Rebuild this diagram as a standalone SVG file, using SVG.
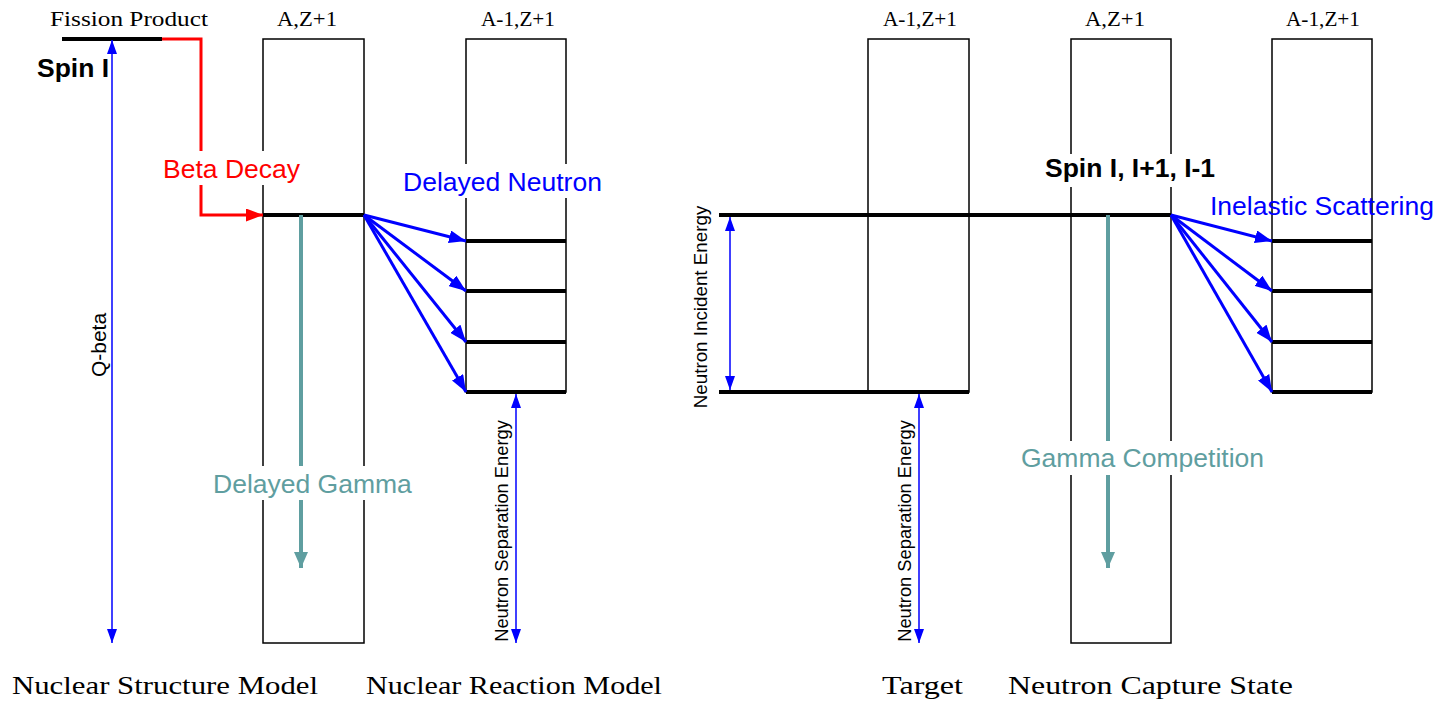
<svg xmlns="http://www.w3.org/2000/svg" width="1435" height="701" viewBox="0 0 1435 701">
<style>
.box{fill:none;stroke:#000;stroke-width:1.5}
.lvl{stroke:#000;stroke-width:4;fill:none}
.serif{font-family:"Liberation Serif","Times New Roman",serif;fill:#000}
.sans{font-family:"Liberation Sans",Arial,sans-serif}
.thin{stroke:#0000ff;stroke-width:1.5;fill:none}
.blue{stroke:#0000ff;stroke-width:3;fill:none}
.teal{stroke:#5f9ea0;stroke-width:4;fill:none}
.red{stroke:#ff0000;stroke-width:3;fill:none}
.bg{fill:#fff}
</style>
<defs>
<marker id="ht" markerUnits="userSpaceOnUse" markerWidth="14" markerHeight="10" refX="14" refY="5" orient="auto-start-reverse"><path d="M0,0 L14,5 L0,10 z" fill="#0000ff"/></marker>
<marker id="hb" markerUnits="userSpaceOnUse" markerWidth="17" markerHeight="13" refX="17" refY="6.5" orient="auto"><path d="M0,0 L17,6.5 L0,13 z" fill="#0000ff"/></marker>
<marker id="hg" markerUnits="userSpaceOnUse" markerWidth="16" markerHeight="14" refX="16" refY="7" orient="auto"><path d="M0,0 L16,7 L0,14 z" fill="#5f9ea0"/></marker>
<marker id="hr" markerUnits="userSpaceOnUse" markerWidth="17" markerHeight="13" refX="17" refY="6.5" orient="auto"><path d="M0,0 L17,6.5 L0,13 z" fill="#ff0000"/></marker>
</defs>

<g id="fission-product">
<text class="serif" x="50" y="26" font-size="20" textLength="158" lengthAdjust="spacingAndGlyphs">Fission Product</text>
<line class="lvl" x1="62" y1="39" x2="162" y2="39"/>
<text class="sans" x="37" y="77" font-size="26.5" font-weight="bold">Spin I</text>
</g>

<g id="box-az1-left">
<text class="serif" x="277" y="26" font-size="20" textLength="60" lengthAdjust="spacingAndGlyphs">A,Z+1</text>
<rect class="box" x="263" y="39" width="101" height="604"/>
<line class="lvl" x1="263" y1="215" x2="364" y2="215"/>
</g>

<g id="box-a1z1-left">
<text class="serif" x="481" y="26" font-size="20" textLength="74" lengthAdjust="spacingAndGlyphs">A-1,Z+1</text>
<rect class="box" x="466" y="39" width="100" height="353"/>
<line class="lvl" x1="466" y1="241" x2="566" y2="241"/>
<line class="lvl" x1="466" y1="291" x2="566" y2="291"/>
<line class="lvl" x1="466" y1="342" x2="566" y2="342"/>
<line class="lvl" x1="466" y1="392" x2="566" y2="392"/>
</g>

<g id="box-target">
<text class="serif" x="883" y="26" font-size="20" textLength="74" lengthAdjust="spacingAndGlyphs">A-1,Z+1</text>
<rect class="box" x="868" y="39" width="101" height="353"/>
<line class="lvl" x1="719" y1="392" x2="969" y2="392"/>
</g>

<g id="box-capture">
<text class="serif" x="1085" y="26" font-size="20" textLength="60" lengthAdjust="spacingAndGlyphs">A,Z+1</text>
<rect class="box" x="1071" y="39" width="100" height="604"/>
<line class="lvl" x1="719" y1="215" x2="1171" y2="215"/>
</g>

<g id="box-a1z1-right">
<text class="serif" x="1286" y="26" font-size="20" textLength="74" lengthAdjust="spacingAndGlyphs">A-1,Z+1</text>
<rect class="box" x="1272" y="39" width="100" height="353"/>
<line class="lvl" x1="1272" y1="241" x2="1372" y2="241"/>
<line class="lvl" x1="1272" y1="291" x2="1372" y2="291"/>
<line class="lvl" x1="1272" y1="342" x2="1372" y2="342"/>
<line class="lvl" x1="1272" y1="392" x2="1372" y2="392"/>
</g>

<g id="connectors">
<path class="red" d="M162,39 H201 V215 H263" marker-end="url(#hr)"/>
<line class="thin" x1="112" y1="40" x2="112" y2="643" marker-start="url(#ht)" marker-end="url(#ht)"/>
<line class="teal" x1="301" y1="215" x2="301" y2="568" marker-end="url(#hg)"/>
<line class="blue" x1="364" y1="215" x2="466" y2="241" marker-end="url(#hb)"/>
<line class="blue" x1="364" y1="215" x2="466" y2="291" marker-end="url(#hb)"/>
<line class="blue" x1="364" y1="215" x2="466" y2="342" marker-end="url(#hb)"/>
<line class="blue" x1="364" y1="215" x2="466" y2="392" marker-end="url(#hb)"/>
<line class="thin" x1="516" y1="394" x2="516" y2="643" marker-start="url(#ht)" marker-end="url(#ht)"/>
<line class="thin" x1="730" y1="217" x2="730" y2="390" marker-start="url(#ht)" marker-end="url(#ht)"/>
<line class="thin" x1="919" y1="394" x2="919" y2="643" marker-start="url(#ht)" marker-end="url(#ht)"/>
<line class="teal" x1="1108" y1="215" x2="1108" y2="568" marker-end="url(#hg)"/>
<line class="blue" x1="1171" y1="215" x2="1272" y2="241" marker-end="url(#hb)"/>
<line class="blue" x1="1171" y1="215" x2="1272" y2="291" marker-end="url(#hb)"/>
<line class="blue" x1="1171" y1="215" x2="1272" y2="342" marker-end="url(#hb)"/>
<line class="blue" x1="1171" y1="215" x2="1272" y2="392" marker-end="url(#hb)"/>
</g>

<g id="labels">
<rect class="bg" x="163" y="151" width="137" height="34"/>
<text class="sans" x="163" y="178" font-size="26.5" fill="#ff0000">Beta Decay</text>
<rect class="bg" x="403" y="164" width="200" height="34"/>
<text class="sans" x="403" y="191" font-size="26.5" fill="#0000ff">Delayed Neutron</text>
<rect class="bg" x="213" y="466" width="200" height="34"/>
<text class="sans" x="213" y="493" font-size="26.5" fill="#5f9ea0">Delayed Gamma</text>
<rect class="bg" x="1020" y="441" width="244" height="34"/>
<text class="sans" x="1021" y="467" font-size="26.5" fill="#5f9ea0">Gamma Competition</text>
<rect class="bg" x="1045" y="154" width="168" height="33"/>
<text class="sans" x="1045" y="177" font-size="26.5" font-weight="bold" fill="#000">Spin I, I+1, I-1</text>
<text class="sans" x="1210" y="215" font-size="26.5" fill="#0000ff">Inelastic Scattering</text>
<text class="sans" transform="translate(106,345) rotate(-90)" text-anchor="middle" font-size="21" fill="#000">Q-beta</text>
<text class="sans" transform="translate(508,531) rotate(-90)" text-anchor="middle" font-size="18.3" fill="#000">Neutron Separation Energy</text>
<text class="sans" transform="translate(911,531) rotate(-90)" text-anchor="middle" font-size="18.3" fill="#000">Neutron Separation Energy</text>
<text class="sans" transform="translate(707,307) rotate(-90)" text-anchor="middle" font-size="18.8" fill="#000">Neutron Incident Energy</text>
</g>

<g id="titles">
<text class="serif" x="12" y="694" font-size="26" textLength="306" lengthAdjust="spacingAndGlyphs">Nuclear Structure Model</text>
<text class="serif" x="366" y="694" font-size="26" textLength="296" lengthAdjust="spacingAndGlyphs">Nuclear Reaction Model</text>
<text class="serif" x="882" y="694" font-size="26" textLength="81" lengthAdjust="spacingAndGlyphs">Target</text>
<text class="serif" x="1008" y="694" font-size="26" textLength="285" lengthAdjust="spacingAndGlyphs">Neutron Capture State</text>
</g>
</svg>
